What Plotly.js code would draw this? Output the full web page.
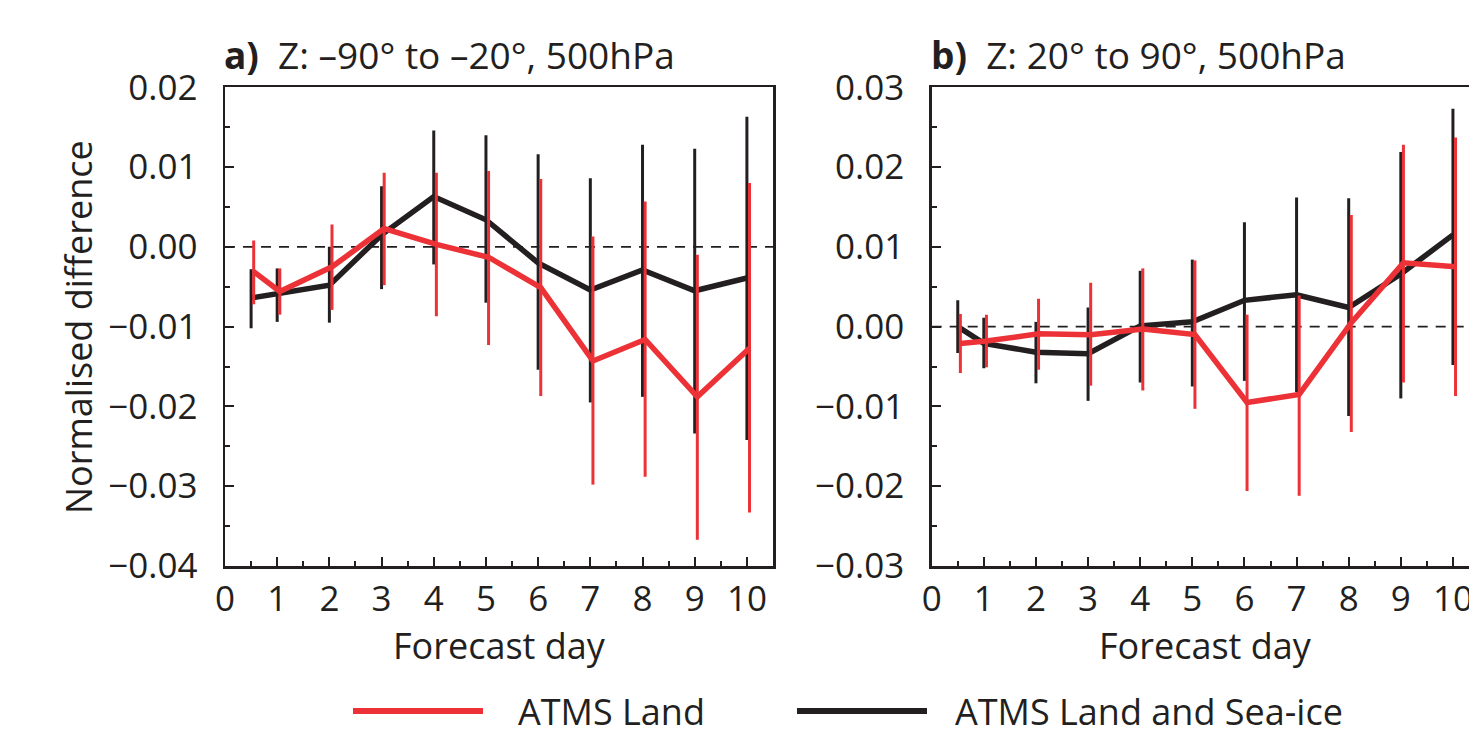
<!DOCTYPE html>
<html>
<head>
<meta charset="utf-8">
<script src="https://cdn.plot.ly/plotly-3.0.1.min.js"></script>
<style>
html,body{margin:0;padding:0;overflow:hidden;background:#fff;}
#chart{width:1500px;height:737px;}
</style>
</head>
<body>
<div id="chart"></div>
<script>
// ---- data ----
const days = [0.5, 1, 2, 3, 4, 5, 6, 7, 8, 9, 10];
const seriesNames = ["ATMS Land", "ATMS Land and Sea-ice"];
const panelTitles = ["<b>a)</b>  Z: \u201390\u00b0 to \u201320\u00b0, 500hPa", "<b>b)</b>  Z: 20\u00b0 to 90\u00b0, 500hPa"];
const xTitle = "Forecast day";
const yTitle = "Normalised difference";

// Panel a: -90 to -20
const redA    = [-0.0031, -0.0056, -0.0025, 0.0023, 0.0003, -0.0013, -0.0051, -0.0143, -0.0116, -0.0188, -0.0127];
const redAHi  = [0.0008, -0.0027, 0.0028, 0.0093, 0.0093, 0.0095, 0.0085, 0.0013, 0.0057, -0.0010, 0.0080];
const redALo  = [-0.0072, -0.0085, -0.0079, -0.0048, -0.0087, -0.0123, -0.0187, -0.0298, -0.0288, -0.0367, -0.0333];
const blackA   = [-0.0064, -0.0059, -0.0048, 0.0015, 0.0063, 0.0034, -0.0020, -0.0054, -0.0029, -0.0055, -0.0039];
const blackAHi = [-0.0028, -0.0027, 0.0000, 0.0076, 0.0146, 0.0140, 0.0116, 0.0086, 0.0128, 0.0123, 0.0163];
const blackALo = [-0.0102, -0.0094, -0.0095, -0.0053, -0.0022, -0.0070, -0.0154, -0.0195, -0.0188, -0.0234, -0.0242];

// Panel b: 20 to 90
const redB    = [-0.0021, -0.0018, -0.0009, -0.0010, -0.0003, -0.0010, -0.0095, -0.0085, 0.0005, 0.0080, 0.0075];
const redBHi  = [0.0016, 0.0015, 0.0035, 0.0055, 0.0073, 0.0083, 0.0015, 0.0039, 0.0140, 0.0228, 0.0237];
const redBLo  = [-0.0058, -0.0051, -0.0054, -0.0074, -0.0080, -0.0103, -0.0206, -0.0212, -0.0132, -0.0070, -0.0087];
const blackB   = [0.0000, -0.0021, -0.0032, -0.0034, 0.0001, 0.0006, 0.0033, 0.0040, 0.0024, 0.0066, 0.0115];
const blackBHi = [0.0033, 0.0011, 0.0006, 0.0024, 0.0070, 0.0084, 0.0131, 0.0162, 0.0161, 0.0219, 0.0273];
const blackBLo = [-0.0033, -0.0052, -0.0071, -0.0093, -0.0070, -0.0075, -0.0068, -0.0082, -0.0112, -0.0090, -0.0048];

// ---- styling ----
const RED = "#EC3237";
const BLACK = "#231F20";
const FONT = "Open Sans";
const W = 1500, H = 737;

function trace(y, hi, lo, color, xa, ya, name) {
  return {
    type: "scatter", mode: "lines", x: days, y: y, name: name,
    xaxis: xa, yaxis: ya, showlegend: false,
    line: {color: color, width: 5.5, shape: "linear"},
    error_y: {
      type: "data", symmetric: false,
      array: hi.map((h, i) => h - y[i]),
      arrayminus: lo.map((l, i) => y[i] - l),
      color: color, thickness: 3, width: 0
    },
    hoverinfo: "skip"
  };
}

const data = [
  trace(blackA, blackAHi, blackALo, BLACK, "x", "y", seriesNames[1]),
  trace(redA, redAHi, redALo, RED, "x3", "y", seriesNames[0]),
  trace(blackB, blackBHi, blackBLo, BLACK, "x2", "y2", seriesNames[1]),
  trace(redB, redBHi, redBLo, RED, "x4", "y2", seriesNames[0])
];

const yDom = [1 - 566 / H, 1 - 87.3 / H];
const xDomA = [225 / W, 773 / W];
const xDomB = [931.7 / W, 1479 / W];

function xAxis(dom, anchor) {
  return {
    domain: dom, anchor: anchor, range: [0, 10.5], dtick: 1, tick0: 0,
    showgrid: false, zeroline: false,
    showline: true, mirror: true, linecolor: BLACK, linewidth: 2.5,
    ticks: "inside", ticklen: 9, tickwidth: 2, tickcolor: BLACK,
    minor: {ticks: "inside", ticklen: 5, tickwidth: 2, tickcolor: BLACK, dtick: 0.5, tick0: 0, showgrid: false},
    tickfont: {family: FONT, size: 35, color: BLACK},
    ticklabelstandoff: 0,
    fixedrange: true
  };
}
function yAxis(dom, anchor, range) {
  return {
    domain: dom, anchor: anchor, range: range, dtick: 0.01, tick0: 0,
    tickformat: ".2f",
    showgrid: false, zeroline: false,
    showline: true, mirror: true, linecolor: BLACK, linewidth: 2.5,
    ticks: "inside", ticklen: 9, tickwidth: 2, tickcolor: BLACK,
    minor: {ticks: "inside", ticklen: 5, tickwidth: 2, tickcolor: BLACK, dtick: 0.005, tick0: 0, showgrid: false},
    tickfont: {family: FONT, size: 35, color: BLACK},
    ticklabelstandoff: 18,
    fixedrange: true
  };
}

const shift = 0.05; // small horizontal offset of the red series, as in the reference
const layout = {
  width: W, height: H,
  margin: {l: 0, r: 0, t: 0, b: 0, pad: 0},
  paper_bgcolor: "#fff", plot_bgcolor: "#fff",
  showlegend: false,
  xaxis: xAxis(xDomA, "y"),
  yaxis: yAxis(yDom, "x", [-0.04, 0.02]),
  xaxis2: xAxis(xDomB, "y2"),
  yaxis2: yAxis(yDom, "x2", [-0.03, 0.03]),
  xaxis3: {overlaying: "x", anchor: "y", range: [-shift, 10.5 - shift], visible: false, fixedrange: true},
  xaxis4: {overlaying: "x2", anchor: "y2", range: [-shift, 10.5 - shift], visible: false, fixedrange: true},
  shapes: [
    {type: "line", xref: "x domain", yref: "y", x0: 0, x1: 1, y0: 0, y1: 0, layer: "below",
     line: {color: BLACK, width: 1.6, dash: "10px,8px"}},
    {type: "line", xref: "x2 domain", yref: "y2", x0: 0, x1: 1, y0: 0, y1: 0, layer: "below",
     line: {color: BLACK, width: 1.6, dash: "10px,8px"}},
    // legend swatches
    {type: "line", xref: "paper", yref: "paper", x0: 353 / W, x1: 483 / W, y0: 1 - 711 / H, y1: 1 - 711 / H,
     line: {color: RED, width: 6}},
    {type: "line", xref: "paper", yref: "paper", x0: 797 / W, x1: 927 / W, y0: 1 - 711 / H, y1: 1 - 711 / H,
     line: {color: BLACK, width: 6}}
  ],
  annotations: [
    {text: panelTitles[0], xref: "paper", yref: "paper", x: 222 / W, y: 1 - 55 / H, xanchor: "left", yanchor: "middle",
     showarrow: false, font: {family: FONT, size: 37, color: BLACK}},
    {text: panelTitles[1], xref: "paper", yref: "paper", x: 929 / W, y: 1 - 55 / H, xanchor: "left", yanchor: "middle",
     showarrow: false, font: {family: FONT, size: 37, color: BLACK}},
    {text: yTitle, xref: "paper", yref: "paper", x: 78 / W, y: 1 - 327 / H, xanchor: "center", yanchor: "middle",
     textangle: -90, showarrow: false, font: {family: FONT, size: 36, color: BLACK}},
    {text: xTitle, xref: "paper", yref: "paper", x: 499 / W, y: 1 - 645 / H, xanchor: "center", yanchor: "middle",
     showarrow: false, font: {family: FONT, size: 36, color: BLACK}},
    {text: xTitle, xref: "paper", yref: "paper", x: 1205 / W, y: 1 - 645 / H, xanchor: "center", yanchor: "middle",
     showarrow: false, font: {family: FONT, size: 36, color: BLACK}},
    {text: seriesNames[0], xref: "paper", yref: "paper", x: 516 / W, y: 1 - 711 / H, xanchor: "left", yanchor: "middle",
     showarrow: false, font: {family: FONT, size: 36, color: BLACK}},
    {text: seriesNames[1], xref: "paper", yref: "paper", x: 953 / W, y: 1 - 711 / H, xanchor: "left", yanchor: "middle",
     showarrow: false, font: {family: FONT, size: 36, color: BLACK}}
  ]
};

Plotly.newPlot("chart", data, layout, {staticPlot: true, displayModeBar: false});
</script>
</body>
</html>
